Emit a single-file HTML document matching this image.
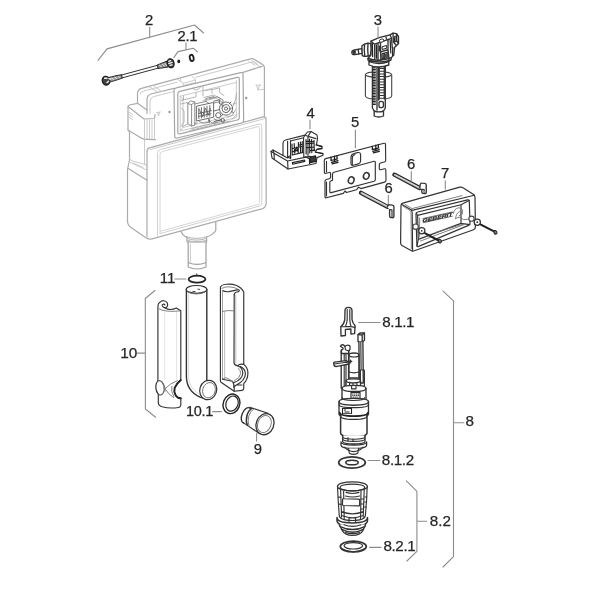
<!DOCTYPE html>
<html lang="en">
<head>
<meta charset="utf-8">
<title>Concealed cistern spare parts</title>
<style>
html,body{margin:0;padding:0;background:#fff;}
body{width:600px;height:600px;overflow:hidden;}
svg{display:block;will-change:transform;filter:blur(.35px);}
text{font-family:"Liberation Sans",sans-serif;fill:#262626;stroke:#262626;stroke-width:.25px;}
.lbl{font-size:14.8px;}
.c{fill:none;stroke:#cbcbcb;stroke-width:1;stroke-linejoin:round;stroke-linecap:round;}
.cf{fill:#fff;stroke:#c6c6c6;stroke-width:1;stroke-linejoin:round;stroke-linecap:round;}
.m{fill:none;stroke:#9a9a9a;stroke-width:.8;stroke-linejoin:round;stroke-linecap:round;}
.d{fill:none;stroke:#333;stroke-width:1.15;stroke-linejoin:round;stroke-linecap:round;}
.df{fill:#fff;stroke:#333;stroke-width:1.15;stroke-linejoin:round;stroke-linecap:round;}
.h{stroke-width:1.35;}
.t{fill:none;stroke:#222;stroke-width:1.8;stroke-linejoin:round;stroke-linecap:round;}
.g{fill:none;stroke:#747474;stroke-width:.9;stroke-linejoin:round;stroke-linecap:round;}
.l{fill:none;stroke:#8c8c8c;stroke-width:1.1;stroke-linecap:round;stroke-linejoin:round;}
</style>
</head>
<body>
<svg width="600" height="600" viewBox="0 0 600 600">
<rect width="600" height="600" fill="#fff"/>

<!-- ================= CISTERN (light) ================= -->
<g id="cistern">
<!-- outer silhouette -->
<path class="cf" style="stroke:#ababab;stroke-width:1.2" d="M137.5,103.3 L137.5,94 Q137.5,89.5 141.5,88.4 L250.6,58.9 Q252.6,58.3 254.2,59.3 L262.6,64.4 Q264.4,65.5 264.4,67.6 L264.4,116.7 L266,118 L266.2,203 Q266.2,207.5 262,208.8 L152,238.8 Q148.5,239.6 145.5,237.6 L131,227.6 Q127.5,225.2 127.5,221 L127.5,169.5 L129.5,160 L129.5,132 L128,130 L128,106.5 L129.2,105 Z"/>
<!-- top face lines -->
<path class="c" d="M140.2,94.2 Q140.6,91.8 143,91.2 L177,82.2 M195.5,77.3 L252.5,61.8 L261,67.6"/>
<path class="c" style="stroke:#ababab;stroke-width:1.2" d="M147,113.5 L147,100 Q147,95.2 151,94 L174,88.4 M243,72.4 L262.4,66.2"/>
<path class="c" d="M150,113.5 L150,101.5 Q150,97.6 153.5,96.6 L174,91.6"/>
<path class="c" d="M149,86.6 L158,92.4 M153,85.5 L161.5,91.4 M248.8,61.3 L254.8,65.2 M251.8,60.5 L257.8,64.4"/>
<!-- tab -->
<path class="c" d="M177,79 L183.3,83.3 L195.5,80 L192,76.2 M180.6,81.4 L180.6,78 M183.3,83.3 L183.5,85.6 L195.7,82.4 L195.5,80"/>
<!-- side block -->
<path class="c" style="stroke:#ababab;stroke-width:1.2" d="M128,106.5 L144,119 L154.5,118.5 L155,114.5 M137.5,103.3 L147,110"/>
<path class="c" d="M144.5,119 L144.5,139 M154.5,118.5 L154.5,139.5 M147,120 L147,139 M149.5,120 L149.5,139 M152,120 L152,139"/>
<path class="c" style="stroke:#ababab;stroke-width:1.2" d="M128,130 L142,138.4 Q144,139.4 146,139.4 L155.5,139.6"/>
<path class="c" d="M129,112 L132.5,114.5 M129,114.5 L132.5,117 M129,117 L132.5,119.5"/>
<!-- lower step of side channel -->
<path class="c" d="M144.5,139.5 L144.5,164.3 M129.5,158 Q130,160 132,160.8 L145,164.5 L147,165 M129.8,162.2 L146.5,170 M133,163 L143,167.4"/>
<path class="c" style="stroke:#ababab;stroke-width:1.2" d="M128.3,168.6 L147,180.2"/>
<!-- front face -->
<path class="c" style="stroke:#ababab;stroke-width:1.2" d="M147,236.5 L147,151 Q147,148.6 149.5,147.9 L154,146.6 L264.2,116.7"/>
<path class="c" d="M151,147.2 L153,146.2 M150,149.6 L266,118.3"/>
<!-- front panel inner -->
<path class="c" style="stroke:#d0d0d0" d="M157.5,236 L157.5,153.5 Q157.5,150.2 160.6,149.4 L259,124.2 Q261.8,123.6 261.8,126.2 L261.8,203 Q261.8,205.3 259.6,206 L160,233.6"/>
<path class="c" style="stroke:#d6d6d6" d="M160,233.6 L160,154.6 Q160,152.1 162.4,151.5 L258,126.6 Q259.6,126.2 259.6,127.8 L259.6,202.4 Q259.6,204 258,204.5 L160,231.4"/>
<!-- opening frame -->
<path class="cf" style="stroke:#a6a6a6;stroke-width:1.2" d="M174,90.5 Q174,88.3 176.2,87.8 L240.8,72.6 Q243,72.1 243,74.4 L243.7,120.3 Q243.7,122.5 241.5,123 L177,138 Q174.8,138.5 174.7,136.2 Z"/>
<path class="c" style="stroke:#a6a6a6;stroke-width:1.2" d="M177.8,94 Q177.8,91.9 179.8,91.4 L237.3,77.4 Q239.3,76.9 239.3,79 L239.3,117.5 Q239.3,119.5 237.3,120 L179.8,133.8 Q177.8,134.3 177.8,132.2 Z"/>
<path class="c" d="M180.2,96.2 L236.3,82.4 M180.2,96.2 L180.2,131 L236.3,117.6 L236.3,80.5 M180.2,131 L183,127.5 L183,99 L180.2,96.2 M183,127.5 L234,115"/>
<!-- screw dots -->
<circle cx="169.5" cy="112" r="1.2" fill="#999"/>
<circle cx="246.2" cy="98" r="1.2" fill="#999"/>
<!-- marks -->
<path class="c" d="M255.8,85.3 L261,85 M256.5,85.3 L258,90 L259.6,85.2 M258,90 L264,89.3"/>
<path class="c" d="M156.5,112.7 L160.2,112 M157.3,112.6 L158.6,116 L159.7,112.2"/>
<!-- mechanism inside opening -->
<g class="m" style="stroke:#a2a2a2">
<path d="M181,100.5 L196,96.8 L196,92.6 M181,104 L187.5,102.4 M182,126.6 L187.8,124 M181.5,108 L184,111 L184,122 L181.5,125.6"/>
<path d="M193,88.4 Q196.5,92.6 201,86.6 M203,86 L203,96 M183.5,99.6 L183.5,96 M204,97.4 L214,95 L220,98.4 L220,104 M208,100 L216,98 L222,101.8 L222,108 M203,100.4 L208,99.4 M212,93.4 L212,89.6 L219.6,87.8 L219.6,92.4 L224,95.6 M205,90.6 L211.8,89.4"/>
<path d="M226,113 L232.5,107.5 L235.5,100 L236.6,93 M227,117.6 L232,115.6 L235.6,109.6 M233,104 L236,103.6 M192,128.4 L226,120.4 M190,130.4 L230,121 M232,119.4 L237.4,114"/>
</g>
<g fill="none" stroke="#808080" stroke-width=".9" stroke-linecap="round" stroke-linejoin="round">
<path d="M187.8,103.6 L187.8,123.6 L191.6,126 L194.8,125.2 L194.8,102 L191,101 Z M191.6,126 L191.6,104.6 L194.8,102 M191.6,104.6 L187.8,103.6" fill="#fff"/>
<path d="M194.8,104 L206,101.4 L206,98.4 L214,96.6 M194.8,123.4 L197,123 M206,101.4 L209,103.4"/>
<path d="M209.6,98.6 L217.6,96.8 L223,100 L223,104 M214,103 L219.4,101.8 M209.4,120.6 Q212,124.6 217,122.6 M199,121.6 Q203,124.6 208.6,122.4 L208.6,119"/>
</g>
<g fill="none" stroke="#5e5e5e" stroke-width=".9" stroke-linecap="round" stroke-linejoin="round">
<path d="M196.4,106.6 L196.4,121 L213.6,117.2 L213.6,102.8 Z M198.8,108.2 L198.8,118.6 M201.4,107.6 L201.4,118 M204.2,107 L204.2,117.4 M207,106.2 L207,116.8 M209.8,105.6 L209.8,116.2 M198.8,113.4 L211.4,110.6 M199.4,109.6 L202.4,116.8 L205.4,108.2 L208.4,115.2 L210.4,108.6 M198.8,116.4 L211,113.8"/>
<circle cx="226" cy="108.6" r="6.6"/><circle cx="226" cy="108.6" r="4"/><circle cx="226" cy="108.6" r="1.6"/>
<path d="M221,104 L223.4,106 M229,104 L231,102 M231.6,111.4 L233.6,113 M222.6,114.4 L221,116.4"/>
<path d="M213.6,111 L219.6,109.6 M214.4,119 Q217.4,122.4 221.4,119 M215.6,115.2 a2.6,2.6 0 1 0 5.2,0 a2.6,2.6 0 1 0 -5.2,0 M219.4,103.6 L219.4,99.8 L213.6,101.2 M214,121.6 L220,120.2 M209.4,119.6 L209.4,122.4 M221,120.4 a1.8,1.8 0 1 0 3.6,0 a1.8,1.8 0 1 0 -3.6,0"/>
</g>
<!-- outlet -->
<path class="c" style="stroke:#a4a4a4;stroke-width:1.2" d="M181,231.6 Q183,236 187,237.4 L187,242 L206.6,242 L206.6,237 Q213,235 215.8,230.5 L215.8,222"/>
<path class="c" style="stroke:#b4b4b4" d="M186,236.6 Q197,240.4 207.6,236.4 M187.4,238.6 Q197,241.8 206.6,238.4 M187.6,240.4 Q197,243.6 206.4,240.2"/>
<path class="c" style="stroke:#a0a0a0;stroke-width:1.2" d="M188.2,242 L188.2,267 Q197,271 206,267 L206,242 M188.2,262.5 Q197,266.3 206,262.5"/>
<path class="c" d="M190.4,244 L190.4,262"/>

</g>

<!-- ================= PART 2 hose ================= -->
<g id="p2">
<g transform="translate(106,80.7) rotate(-15.1)">
<!-- tube -->
<path d="M15,-1.45 L54.5,-1.45 M15,1.45 L54.5,1.45" stroke="#2e2e2e" stroke-width=".9" fill="none"/>
<!-- left ferrule -->
<path d="M3.5,-2.4 L12,-2.1 L16.5,-1.6 L16.5,1.6 L12,2.1 L3.5,2.4 Z" fill="#9a9a9a" stroke="#2a2a2a" stroke-width="1" stroke-linejoin="round"/>
<path d="M6,-1.2 L8.2,1.2 M9,-1.2 L11.5,1.2 M13,-1 L14.5,1" stroke="#e8e8e8" stroke-width=".9" fill="none"/>
<!-- left nut -->
<ellipse cx="0" cy="0" rx="3.7" ry="4.4" fill="#444" stroke="#1f1f1f" stroke-width="1.3"/>
<path d="M-0.6,-2.6 L1.6,-2.2 M0.6,2 L2.4,1.2 M3.4,-1.2 L4.8,-0.4" stroke="#f2f2f2" stroke-width="1.5" stroke-linecap="round" fill="none"/>
<!-- right ferrule -->
<path d="M53.5,-1.7 L57,-2.3 L63.6,-2.9 L63.6,2.9 L57,2.3 L53.5,1.7 Z" fill="#8a8a8a" stroke="#2a2a2a" stroke-width="1" stroke-linejoin="round"/>
<path d="M55.5,-1 L57.2,1.2 M58.5,-1.5 L60.5,1.5 M61.3,-1.6 L62.6,1.4" stroke="#ededed" stroke-width=".9" fill="none"/>
<!-- right nut -->
<ellipse cx="67" cy="0" rx="3.3" ry="4.5" fill="#444" stroke="#1f1f1f" stroke-width="1.3"/>
<path d="M65.6,-2.4 L67.6,-2.6 M65.8,1.8 L68,2 M65,-0.2 L68.6,-0.4" stroke="#f2f2f2" stroke-width="1.3" stroke-linecap="round" fill="none"/>
</g>
<!-- washer dot + o-ring -->
<ellipse cx="178.75" cy="61.4" rx="1.45" ry="1.8" fill="#1f1f1f"/>
<ellipse cx="191.7" cy="57.9" rx="1.9" ry="3.2" fill="#fff" stroke="#1f1f1f" stroke-width="1.8" transform="rotate(-12 191.7 57.9)"/>

</g>

<!-- ================= PART 3 fill valve ================= -->
<g id="p3">
<!-- float (mid gray) -->
<path d="M365.4,74.5 L365.4,96 Q365.4,99 378.5,99.2 Q391.7,99 391.7,96 L391.7,74.5" fill="#fff" stroke="#444" stroke-width="1.1"/>
<ellipse cx="378.5" cy="74.5" rx="13.1" ry="2.8" fill="#fff" stroke="#444" stroke-width="1.1"/>
<!-- stem -->
<path class="df h" d="M372.4,64 L372.4,108 L374.2,111 L374.2,116 Q378.8,118 383.5,116 L383.5,111 L385.3,108 L385.3,64 Z"/>
<path class="d h" d="M374.2,111 Q378.8,112.8 383.5,111 M377,64 L377,110 M378.6,66 L378.6,100"/>
<!-- threaded rod -->
<path d="M374.3,64 L374.3,105" stroke="#222" stroke-width="3" stroke-dasharray="1.1 .5" fill="none"/>
<!-- ladder -->
<path d="M381.7,68 L381.7,99" stroke="#333" stroke-width="4.6" stroke-dasharray="1 1.7" fill="none"/>
<path class="d h" d="M379.2,67 L379.2,99 M384.3,67 L384.3,99"/>
<path class="df h" d="M379,103 Q379,101.4 381,101.4 Q383.4,101.4 383.4,103 L383.4,106 Q383.4,107.6 381,107.6 Q379,107.6 379,106 Z"/>
<!-- collar -->
<path class="df h" d="M369,61.5 L369,65 Q378.5,69 388.8,65 L388.8,61.5 Z"/>
<path class="d h" d="M369,61.5 Q378.5,65.5 388.8,61.5"/>
<!-- body -->
<path class="df h" d="M368,58.5 L370.8,55 L371,41.2 L379,37.6 L390,34.8 L393,33.2 L396.5,33.6 L398.5,36.5 L398.5,43.5 L396.5,45.5 L394.5,47.5 L393.8,55 L391.3,57.6 L391,60 Q380,63.8 368,60 Z"/>
<path class="d h" d="M371,41.2 L374.6,44.2 L391.5,38.3 L390,34.8 M374.6,44.2 L374.8,58.5 M391.5,38.3 L392.3,48 M378,43.2 L378,60 M380.5,42.4 L380.5,52 L388,49.6 L388,39.8 M380.5,52 L381,60.5 M388,49.6 L389,59.5 M368,58.5 Q380,62.5 391.3,57.6"/>
<path class="d h" d="M393,33.2 L393.4,42 L396.5,45.5 M396.5,33.6 L396.8,41 L398.5,43.5 M393.4,42 L396.8,41"/>
<path d="M372.3,43.5 L372.6,56.5 M376.3,45 L376.5,58.2" stroke="#222" stroke-width="1.3" fill="none" stroke-linecap="round"/>
<path d="M379.3,46 L379.3,51 M382,53.8 L387.2,52.2 L387.2,57.6 L382,59 Z M384.5,53.2 L384.5,58.4 M390.2,40.5 L390.8,53 M392.8,47.5 L392.5,55.5" stroke="#222" stroke-width="1.2" fill="none" stroke-linecap="round" stroke-linejoin="round"/>
<path d="M382.6,54.6 L386.8,53.4 L386.8,57 L382.6,58.2 Z" fill="#444"/>
<path d="M394.3,36 L394.6,41 M395.8,35.6 L396,40.6" stroke="#222" stroke-width="1" fill="none"/>
<path d="M382,46.8 L386.5,45.5 L386.8,48.2 L382.2,49.5 Z" fill="none" stroke="#222" stroke-width="1"/>
<ellipse cx="381.6" cy="40.6" rx="2.4" ry="1.5" fill="#fff" stroke="#333" stroke-width=".9" transform="rotate(-17 381.6 40.6)"/>
<path d="M386,37 Q386.3,40.6 389.3,39.6" class="d h"/>
<!-- nut -->
<path class="df h" d="M362,45.8 Q361.3,50.5 362.3,55.6 Q366,57.4 370.5,55.2 Q371.6,49.5 370.7,43.6 Q366,42.2 362,45.8 Z"/>
<path class="d h" d="M364.6,44.4 Q363.8,50 364.8,56.4 M368,43.3 Q367.4,49.5 368.2,56.2"/>
<!-- inlet stub -->
<path class="df h" d="M361.8,48.6 L354.5,50 Q351.6,50.6 351.8,52.8 Q352,55 355,54.6 L362,53.4 Z"/>
<path d="M353,51.2 Q352.4,52.6 353.4,53.9 L355.8,53.5 L355.4,50.7 Z" fill="#333" stroke="#222" stroke-width=".5"/>
<path class="d h" d="M358.2,49.3 L358.8,54"/>

</g>

<!-- ================= PART 4 ================= -->
<g id="p4">
<!-- base flange -->
<path class="df" d="M271,151.5 L273,150 L283,155.4 L283,143 Q283.2,140.6 285.5,140 L303,135.6 L305,135 L307.5,132 L311,131.5 L317,135 L317.6,138.5 L316.4,144.8 L322,146.4 L322,148.6 L317,149.4 L315.4,152 L323,153.5 L323,155.2 L317,157.6 L316,163.5 L288,169 L272,158 Z"/>
<path class="d" d="M271,151.5 L274,153.3 L274.3,159.4 M274,153.3 L273,150 M274,153.3 L287.6,161 L288,169 M283,155.4 L287.6,158 L287.6,141.2 M287.6,161 L309.5,156.4 L316,157.6"/>
<path class="d" d="M290.5,140.6 L290.6,158.6 M290.5,141 L303.5,137.8 L303.8,156.8 M305,135 L308,136.4 L311,131.5 M308,136.4 L308,155.6 M308,136.4 L316,138.6 M303.5,137.8 L305,135"/>
<!-- dark detail clusters -->
<g stroke="#1f1f1f" stroke-width="1.15" fill="none" stroke-linecap="round" stroke-linejoin="round">
<path d="M292,144 L292.2,154.5 M294.2,143.5 L294.6,153 L296.4,147 L298.2,152.4 L298.4,142.6 M300.4,142 L300.6,152.6 M302.2,141.6 L302.4,152 M292,148.8 L302.4,146.2 M292.2,155 L303,152.4 M293,151.6 L297.4,150.4 M299,145 L302,144.2"/>
<path d="M306,139.6 L306.2,154 M309.6,139 L309.8,153 M311.6,139.6 L311.8,152.6 M314,140.4 L314.2,151 M306,143.6 L314,143 M306.2,147.6 L314.2,147 M309.8,150.6 L315,150.4 M307,141.4 L313.6,141.8"/>
<path d="M316,145 L321.8,146.6 M321.8,148.4 L317,149.2 M315.4,152.2 L322.8,153.6"/>
<path d="M292.4,162.6 L304.6,160 L304.8,161.4 L292.6,164.2 Z" fill="#fff"/>
<path d="M310,157 L315.6,155.8 L315.8,161.4 L310.2,162.6 Z" fill="#3a3a3a"/>
<path d="M288.6,157 a1,1 0 1 0 2,0 a1,1 0 1 0 -2,0 M305,156.8 L309.4,158.6 L309.6,163.6"/>
</g>

</g>

<!-- ================= PART 5 ================= -->
<g id="p5">
<path class="df" d="M324.3,160.5 Q324.3,159 325.8,158.6 L384,143.3 Q385.5,142.9 385.5,144.4 L385.7,160.3 Q385.7,161.6 384.4,162 L380.5,163 Q379.3,163.4 379.3,164.7 L379.3,168.6 Q379.3,170 380.6,169.7 L384.5,168.8 Q385.8,168.5 385.8,170 L386,180.3 Q386,181.7 384.6,182.1 L361,188.6 L358.5,187.2 L356.5,189.8 L346.5,192.5 L345,191 L343.3,193.4 L326.4,197.8 Q325,198.2 325,196.7 L325,181.2 Q325,179.8 326.4,179.5 L329.3,178.7 Q330.6,178.4 330.6,177 L330.6,173.6 Q330.6,172.2 329.3,172.5 L325.8,173.3 Q324.4,173.6 324.4,172.2 Z"/>
<!-- inner rectangle -->
<path class="d" d="M332.5,174.2 Q332.5,172.7 334,172.3 L374,161.3 Q375.3,161 375.3,162.4 L375.3,179.5 Q375.3,180.8 374,181.2 L331.2,192.6 Q329.8,193 329.8,191.5 L329.8,182.6 Q329.8,181.2 331.2,180.8 L332.5,180.4 Z"/>
<path class="d" d="M326.5,196 L326.5,182 M326.5,161.3 L326.5,171.8"/>
<!-- window -->
<path class="df" d="M351,157.5 Q351,154.3 354,153.5 L357.5,152.6 Q360.6,151.9 360.6,155 L360.6,161 Q360.6,163.3 358.3,163.9 L353.3,165.2 Q351,165.8 351,163.4 Z"/>
<path class="d" d="M352.3,164.8 L352.3,158 Q352.3,155.2 355,154.5"/>
<!-- holes -->
<ellipse cx="351.2" cy="180.2" rx="2.8" ry="3.4" class="d" transform="rotate(20 351.2 180.2)" style="stroke-width:1.5"/>
<ellipse cx="366.3" cy="175.9" rx="2.8" ry="3.4" class="d" transform="rotate(20 366.3 175.9)" style="stroke-width:1.5"/>
<!-- clips -->
<g stroke="#1c1c1c" stroke-width="1.25" fill="none" stroke-linecap="round">
<path d="M331,157.2 L331,160.5 M334.5,156 L334.5,161.5 M337,155.6 L337,159 M331,160.5 L337.5,158.8 M331.5,162.3 L338,160.6 M332,163.8 L338,162.3"/>
<path d="M372.3,146.3 L372.3,149.6 M375.8,145.1 L375.8,150.6 M378.3,144.7 L378.3,148.1 M372.3,149.6 L378.8,147.9 M372.8,151.4 L379.3,149.7 M373.3,152.9 L379.3,151.4"/>
</g>

</g>

<!-- ================= PART 6 ================= -->
<g id="p6">
<!-- upper rod -->
<path d="M394.4,174.7 L419.6,188" stroke="#262626" stroke-width="4.3" stroke-linecap="round" fill="none"/>
<path d="M394.8,174.9 L419.4,187.9" stroke="#b6b6b6" stroke-width="2" stroke-linecap="round" fill="none"/>
<path d="M396,175.2 L419,187.3" stroke="#e4e4e4" stroke-width=".8" stroke-linecap="round" fill="none"/>
<path class="df" style="stroke-width:1.35" d="M419.8,187.8 L420.2,184.6 Q420.6,183 422.2,183.2 L424.8,183.4 Q426.2,183.6 426.2,185 L426.3,192 Q426.3,193.6 424.8,193.5 L423,193.3 Q421.8,193.1 421.8,191.9 L421.8,189.4"/>
<path class="d" d="M421.8,189.4 L424.2,189.6 L424.2,193.4"/>
<path d="M422.6,190.6 L425.4,190.9 L425.4,192.6 L422.6,192.4Z" fill="#999"/>
<!-- lower rod -->
<path d="M361,192.8 L387.6,206.8" stroke="#262626" stroke-width="4.3" stroke-linecap="round" fill="none"/>
<path d="M361.4,193 L387.4,206.7" stroke="#b6b6b6" stroke-width="2" stroke-linecap="round" fill="none"/>
<path d="M362.6,193.3 L387,206.1" stroke="#e4e4e4" stroke-width=".8" stroke-linecap="round" fill="none"/>
<path class="df" style="stroke-width:1.35" d="M387.4,206.8 L387.8,205.8 Q388.2,204.6 389.8,204.8 L392.4,205.1 Q393.9,205.4 393.9,206.8 L393.9,216.2 Q393.9,217.9 392.3,217.7 L390.8,217.5 Q389.6,217.2 389.6,215.9 L389.6,209.6"/>
<path class="d" d="M389.6,209.6 L392,209.9 L392,217.5"/>

</g>

<!-- ================= PART 7 ================= -->
<g id="p7">
<!-- outer box -->
<path class="df" style="stroke-width:1.2" d="M401,205.6 Q401,203.6 402.8,203.1 L459.8,187.2 Q461.6,186.8 463,187.8 L473.6,194.6 Q475,195.6 475,197.6 L475.4,227 Q475.4,229 473.5,229.7 L414.4,250.8 Q412.5,251.4 411,250.4 L402,245.4 Q400.6,244.6 400.6,242.9 Z"/>
<path class="d" d="M401.5,204.2 L410.6,209.6 Q412,210.4 412.2,212.3 L412.6,250.8 M410.6,209.6 Q412,210.4 414,209.9 L474.3,195.2"/>
<path class="g" d="M403,206.2 L410.2,210.6 Q411,211.1 411,212.6 L411.4,248.8 M405,204.5 L412,208.6 L462,195.6"/>
<!-- inner opening -->
<path class="d" style="stroke-width:1.2" d="M416,214.2 Q416,212.5 417.8,212 L467.5,199.9 Q469.3,199.5 469.3,201.2 L470,223.3 Q470,224.8 468.5,225.4 L418.7,246.4 Q416.9,247.1 416.9,245.2 Z"/>
<path class="d" d="M416.3,213 L417.6,215.4 L418.3,239.4 L417,246.2 M417.6,215.4 L461,204.8 L461,223.4 L418.3,239.4 M461,204.8 L469,200.6 M461,223.4 L469.8,224.6"/>
<path class="g" d="M420.5,241 L464,224.6 M435.5,232.5 L465.5,223.5 M419.6,218 L419.6,237"/>
<!-- cable/cutout -->
<path class="g" d="M453.5,213.4 Q454,208.6 458.6,207.8 Q463,208 462.6,212 Q462,215 459,216 M455.6,218.6 Q456,213 459.6,211.6 Q462.6,211.6 462.4,214 M455.6,218.6 Q459.6,215.6 463.6,219.6 L468.6,219.2"/>
<!-- logo -->
<path d="M422.8,220.6 L452.6,213.9" stroke="#fff" stroke-width="4.4" fill="none"/>
<text transform="matrix(1,-0.225,0,1,422.6,222.6)" style="font-size:5.2px;font-weight:bold;font-style:italic;fill:#222" textLength="30" lengthAdjust="spacingAndGlyphs">GEBERIT</text>
<path d="M422.6,218.6 L452.6,211.9 M422.8,222.8 L452.8,216.1" stroke="#333" stroke-width=".7" fill="none"/>
<!-- washers -->
<circle cx="415.6" cy="226.7" r="2.7" fill="#fff" stroke="#444" stroke-width="1.1"/>
<circle cx="471.5" cy="218.7" r="2.6" fill="#fff" stroke="#444" stroke-width="1.1"/>
<circle cx="421.8" cy="230.8" r="3.1" class="df" style="stroke-width:1.25"/><circle cx="421.8" cy="230.8" r=".9" fill="#333"/>
<circle cx="477.3" cy="222.2" r="3.1" class="df" style="stroke-width:1.25"/><circle cx="477.3" cy="222.2" r=".9" fill="#333"/>
<!-- screws -->
<path d="M425.2,233.4 L438.6,240.5" stroke="#222" stroke-width="2.1" stroke-linecap="round" fill="none"/>
<path d="M480.8,224.6 L494,231.4" stroke="#222" stroke-width="2.1" stroke-linecap="round" fill="none"/>
<ellipse cx="439.8" cy="241.2" rx="1.5" ry="1.9" fill="#777" stroke="#222" stroke-width="1" transform="rotate(-25 439.8 241.2)"/>
<ellipse cx="495.4" cy="232.3" rx="1.5" ry="1.9" fill="#777" stroke="#222" stroke-width="1" transform="rotate(-25 495.4 232.3)"/>

</g>

<!-- ================= PART 8 ================= -->
<g id="p8">
<!-- 8.1.1 clip -->
<path class="df h" d="M345,310.6 Q345,307.4 348.5,307.4 Q352,307.4 352,310.6 L352,319.4 Q352.6,323.4 355,325.6 L355,327.4 L354.6,333.6 L350.9,334 L350.9,329 L345.4,329.3 L345.4,335.5 L341,336 L340.8,326.7 Q344,324.4 344.8,319.6 Z"/>
<path class="d" d="M347.2,309.6 L347.2,319.6 Q347,323.4 345.4,326.4 M349.8,309.6 L349.8,319.6 Q350,323.6 351,326.4 M340.8,326.7 L345.4,326.6 L350.9,326.6 L355,327.4"/>
<!-- adjuster rod + rect -->
<path class="df h" d="M358,334.6 L360.3,332.8 L364.4,333 L364.5,340.3 L362.2,342 L358,341.6 Z"/>
<path class="d h" d="M358,334.6 L362.2,335 L364.4,333 M362.2,335 L362.2,342"/>
<path class="df h" d="M358.9,341.8 L359.3,383 L363.3,383 L362.9,342"/>
<path class="d" d="M360.8,342 L361.1,370 M360.4,370 L360.4,386 L364.4,386 L364.4,370 Z"/>
<!-- left column with hook -->
<path class="df h" d="M341.2,350.5 L341.2,388 L348.6,388 L348.6,350.5 Z"/>
<path class="d" d="M344.2,352 L344.2,387 M346,352 L346,387"/>
<path class="df h" d="M340.4,346.3 Q341.3,344.4 343.4,344.8 L345,346.4 Q347,344.3 349.6,345.6 Q350.8,347.5 349.9,349.5 L348.7,351 L348.7,353.5 L341.4,353.5 L341.4,350 Q343.4,349.5 343,348 Z"/>
<path class="d" d="M345,346.4 L345.4,349.8 L348.7,351"/>
<!-- cylinder -->
<path class="df h" d="M349,355 L349,378 L358.9,378 L358.9,355 Q358.9,353 354,353 Q349,353 349,355 Z"/>
<path class="d" d="M349,355 Q349,357 354,357 Q358.9,357 358.9,355 M349,372 Q354,373.6 358.9,372"/>
<path class="d" d="M350.6,360 L350.6,363 M349,361.4 L351.8,361.4"/>
<!-- lever arm -->
<path class="df h" d="M334,364.2 Q333,363 334.5,362.2 L346,360.7 L349,362.2 L349,364 L337,366.4 Q335,366.7 334,365.5 Z"/>
<path class="d" d="M334.5,364 L346,362.2 L349,363.2 M346,360.7 L346,362.2"/>
<!-- small cap -->
<path class="df h" d="M346,380.8 L346,387.5 L360.5,387.5 L360.5,380.8 Q360.5,378.8 353.2,378.8 Q346,378.8 346,380.8 Z"/>
<path class="d" d="M346,380.8 Q346,382.8 353.2,382.8 Q360.5,382.8 360.5,380.8 M349.5,382.4 L349.5,387 M353,382.8 L353,387.3 M357,382.6 L357,387"/>
<!-- upper housing -->
<path class="df h" d="M342,388.4 L342,401 L366,401 L366,388.4 Q366,385.4 354,385.4 Q342,385.4 342,388.4 Z"/>
<path class="d h" d="M342,388.4 Q342,391.4 354,391.4 Q366,391.4 366,388.4"/>
<path class="d" d="M351.6,386.4 L351.6,388.8 L356,388.8 L356,386.4" />
<rect x="351" y="392.4" width="9" height="6.2" fill="#fff" stroke="#222" stroke-width="1.1"/>
<path d="M352.2,394 L359,394 M352.2,395.6 L359,395.6 M352.6,397.2 L358.6,397.2" stroke="#222" stroke-width=".9" stroke-dasharray="1.4 .5" fill="none"/>
<!-- collar -->
<path class="df" style="stroke-width:1.3" d="M339,401.8 L339,414 Q339,417.4 353.7,417.4 Q368.5,417.4 368.5,414 L368.5,401.8 Q368.5,398.4 353.7,398.4 Q339,398.4 339,401.8 Z"/>
<path class="d" style="stroke-width:1.4" d="M339,401.8 Q339,405.2 353.7,405.2 Q368.5,405.2 368.5,401.8"/>
<path class="d" d="M339,404.4 Q339,407.6 353.7,407.6 Q368.5,407.6 368.5,404.4"/>
<path class="d" d="M342,397.5 Q342,400.5 353.3,400.5 Q364.7,400.5 364.7,397.5" />
<rect x="342.5" y="408.4" width="9" height="5.4" fill="#fff" stroke="#222" stroke-width="1.1"/>
<path d="M344,410 L346,410 M344.5,412 L349.5,412" stroke="#222" stroke-width="1" fill="none"/>
<!-- lower cylinder -->
<path class="df" style="stroke-width:1.5" d="M340.6,414 L340.6,433 Q340.6,436.6 353.8,436.6 Q367,436.6 367,433 L367,414"/>
<path d="M339.6,412.6 Q339.6,416.2 353.8,416.2 Q368,416.2 368,412.6" class="t" style="stroke-width:1.7"/>
<path class="d" d="M340.6,416 Q340.6,419.4 353.8,419.4 Q367,419.4 367,416"/>
<!-- narrower -->
<path class="df" style="stroke-width:1.3" d="M342.6,435.4 L342.6,441.6 Q342.6,444 353.8,444 Q365,444 365,441.6 L365,435.4"/>
<path class="d" d="M342.6,436.6 Q342.6,439.2 353.8,439.2 Q365,439.2 365,436.6 M342.6,438.8 Q342.6,441.4 353.8,441.4 Q365,441.4 365,438.8"/>
<path class="d" d="M348,437.5 L348,441 M353,439 L353,441.4"/>
<!-- flange -->
<path class="df" style="stroke-width:1.3" d="M341,442 L341,445.2 Q341,448.4 353.8,448.4 Q366.6,448.4 366.6,445.2 L366.6,442 Q366.6,445 353.8,445 Q341,445 341,442 Z"/>
<path class="d" d="M344.5,447.2 Q347,450 349,450.4 M363,447.2 Q360.6,450 358.6,450.4"/>
<!-- nozzle -->
<path class="df" d="M348.6,448.4 L349.3,453.2 Q353.6,455.6 357.8,453.2 L358.6,448.4"/>
<path class="d" d="M348.8,450.6 Q353.6,452.8 358.4,450.6"/>
<!-- washer 8.1.2 -->
<ellipse cx="352" cy="462.5" rx="13.3" ry="5.7" class="df" style="stroke-width:1.7"/>
<ellipse cx="352" cy="462.5" rx="6.2" ry="2.3" class="df" style="stroke-width:1.6"/>
<!-- 8.2 basket -->
<path class="df" d="M337.5,486.5 L338.2,500 L339.2,515 Q339.2,520.5 352.5,520.5 Q365.4,520.5 365.4,515 L366.6,500 L367.2,486.5"/>
<ellipse cx="352.4" cy="486.4" rx="14.9" ry="4.6" class="df" style="stroke-width:1.3"/>
<ellipse cx="352.4" cy="487.4" rx="12.3" ry="3.3" class="d"/>
<path class="d" d="M340.6,489.8 L341.6,517 M343.6,491 L344.2,518.4 M361,491 L360.6,518.4 M364.2,489.8 L363.2,517 M346,492.4 Q352.5,494.6 359,492.4 M341.4,511.6 Q352.5,516 363.4,511.6"/>
<path class="d" d="M345.5,496 Q352.5,498 359.5,496"/>
<path class="df" d="M342.6,499.6 Q342.4,498.6 343.6,498.7 L358.8,499.2 Q359.8,499.3 359.7,500.3 L359.6,505 Q359.6,506 358.5,505.9 L343.4,505.5 Q342.3,505.4 342.4,504.3 Z" style="stroke-width:1.25"/>
<path class="d" d="M364.8,497 L366.7,497 M364.6,502 L366.5,502 M364.4,507 L366.2,507 M361,499 L363.8,499 M361,504 L363.6,504 M361,509 L363.4,509 M338.2,497 L340.8,497.4 M338.6,504 L341,504.4"/>
<!-- flange ring -->
<path class="df" d="M337,517.6 Q337,523 352.3,523 Q367.5,523 367.5,517.6 L367.5,520.4 Q367.5,526 352.3,526 Q337,526 337,520.4 Z" style="stroke-width:1.5"/>
<path class="d" d="M342.6,515.8 Q352.5,520 362.4,515.8 M349,517.6 L349,521.6 M355.6,517.6 L355.6,521.6"/>
<!-- funnel -->
<path class="df" style="stroke-width:1.4" d="M339.2,524.6 L342.6,531 Q345,535.4 352.5,535.4 Q360.2,535.4 362.6,531 L365.6,524.6"/>
<path class="d" style="stroke-width:1.5" d="M340.2,526.6 Q352.5,532.6 364.8,526.6 M341.6,529.4 Q352.5,535 363.4,529.4"/>
<path class="d" d="M344,524.8 Q352.5,528 361,524.8 M345.4,532.6 Q352.5,534.6 359.6,532.6"/>
<!-- 8.2.1 ring -->
<ellipse cx="353.3" cy="546.6" rx="13" ry="5.4" class="df" style="stroke-width:1.7"/>
<ellipse cx="353.3" cy="545.8" rx="9.3" ry="3.2" class="df" style="stroke-width:1.2"/>
<path class="d" d="M341.4,548.6 Q353.3,555 365.2,548.6"/>

</g>

<!-- ================= PART 9/10/11 ================= -->
<g id="p10">
<!-- 11 o-ring -->
<ellipse cx="197" cy="279.2" rx="8.4" ry="3.5" fill="#fff" stroke="#222" stroke-width="1.8"/>
<path d="M196.7,273.4 L196.7,276.6 M196.7,285.8 L196.7,288.4" stroke="#333" stroke-width=".9" fill="none"/>
<!-- LEFT half shell -->
<path class="df" d="M157.9,380.8 L157.9,306.7 Q157.8,303.6 159.8,302.3 Q161.6,300.6 163.6,300.7 Q166.2,300.9 167.2,302.8 Q168,304.6 167.4,306 Q166.6,307.8 165.2,307.9 Q167.6,309.4 170.4,309.5 Q173.6,309.4 176.3,307.9 L180.8,310.8 L180.8,380 Q176.4,383.6 174.6,388 Q173.6,392 175.8,395.6 Q177.6,398.2 180.8,398.3 L180.8,405 Q180.4,407.4 178.3,407.5 Q170,408.8 162,406.8 Q158.6,405.6 158.3,403 L158.3,394.2 Q155.6,391 155.8,386 Q156,382.6 157.9,380.8 Z"/>
<path class="d" d="M165.2,307.9 Q163.2,307.6 162.4,306 Q161.8,304.6 163,304.2 Q164.4,303.8 165,305"/>
<path class="g" d="M158.8,308.8 Q162,310.6 166,310.9 Q171,311.6 176,311.2 L179.6,310.9"/>
<path d="M180.8,380 Q176.4,383.6 174.6,388 Q173.6,392 175.8,395.6 Q177.6,398.2 180.8,398.3" fill="none" stroke="#222" stroke-width="1.9" stroke-linecap="round"/>
<path class="d" d="M157.9,380.8 Q160,380 162,382 Q164.6,385.4 164.2,390 Q163.4,394.6 160.6,395 Q159.2,395 158.3,394.2" style="stroke:#555"/>
<path class="g" d="M163.4,383.6 Q165.6,387.4 165,391.4 M165,388.6 Q170.6,383 177.4,380.6 M165,388.6 Q168.4,394.6 173.6,397.6 M171.8,386.4 Q170.6,391.4 173.8,396.4"/>
<path class="g" style="stroke:#e2e2e2" d="M164.6,312 L164.6,379 M176.6,312.4 L176.6,379"/>
<!-- MIDDLE pipe -->
<path class="df" style="stroke-width:1.4" d="M186.4,289.4 L186.4,377 Q186.8,391 200,397.2 Q208,400.5 214,396 L206.8,380 L206.8,289.4 Z"/>
<ellipse cx="196.5" cy="289.4" rx="10.3" ry="3.9" class="df"/>
<path class="g" d="M188,292.3 Q196.3,295.8 204.8,292.3"/>
<path d="M192.5,291.4 L195.5,291.6 M197.5,289.2 L200,289.4" stroke="#333" stroke-width=".9" fill="none"/>
<ellipse cx="208.2" cy="390" rx="8.4" ry="9.8" class="df" transform="rotate(18 208.2 390)" style="stroke-width:1.2"/>
<ellipse cx="209" cy="390.2" rx="6.3" ry="7.8" class="g" transform="rotate(18 209 390.2)"/>
<path class="g" style="stroke:#d8d8d8" d="M188.6,294 L188.6,377 Q189.2,388 198.5,393.6"/>
<!-- RIGHT half shell -->
<path class="df" d="M220.4,287.4 Q221,284.6 226.7,284.2 Q232,283.8 236,285.2 Q241.4,287.3 243.75,292 L243.75,364.4 Q248,367.5 247.9,373.6 Q247.7,380 243.75,383.6 L243.75,388.4 Q243.6,390.2 242,390.4 L234.2,391.25 L221,382.3 Q220.4,381.8 220.4,380.8 Z"/>
<!-- top thickness -->
<path class="d" d="M222.5,290.6 Q225,292.2 229,291.6 Q234,290.6 238,289.6 Q239.6,289.8 239.2,291 Q238.6,292.2 236.6,292 Q234.4,292.4 234.2,294.6"/>
<path class="g" d="M221.8,288.4 Q224.6,286.6 229,286.8 Q234.5,287 238.3,289.3"/>
<!-- inner walls -->
<path class="g" style="stroke:#9a9a9a" d="M222.5,290.6 L222.5,379.2"/>
<path class="d" d="M222.5,379.2 L232.5,381.3 L233.75,384.2 M234.2,294.6 L234,362.8 Q234.4,365 237.5,365.8"/>
<path class="g" style="stroke:#b8b8b8" d="M235.8,295 L235.8,363 M224.6,312 L224.6,378"/>
<path class="g" d="M222.5,311.4 Q228,310 234,310.8 M222.5,379.2 L226,377.6 L232.5,381.3"/>
<!-- elbow arcs -->
<path class="d" d="M237.5,365.8 Q242.6,367.6 242.8,373.2 Q242.4,379.6 233.75,382.6 M243.75,364.4 Q239.6,363.4 237.5,365.8"/>
<path class="d" d="M240,366.4 Q245.4,368.6 245.4,374 Q245,380.6 236.8,384.8 L242,385 M233.75,384.2 L233.75,387 L236.8,384.8"/>
<path class="g" d="M238.4,368.4 Q240.8,370.4 240.6,373.6 Q240,378 234.6,380.6"/>
<path class="d" d="M234.2,391.25 L234.2,387.2"/>
<!-- 10.1 ring -->
<ellipse cx="231.5" cy="403.8" rx="8.2" ry="10" fill="#fff" stroke="#222" stroke-width="1.4" transform="rotate(22 231.5 403.8)"/>
<ellipse cx="232" cy="403.6" rx="6" ry="7.8" fill="none" stroke="#222" stroke-width="1.2" transform="rotate(22 232 403.6)"/>
<!-- 9 connector -->
<ellipse cx="246.5" cy="415.4" rx="4.6" ry="8.2" class="df" transform="rotate(22 246.5 415.4)" style="stroke-width:1.4"/>
<path d="M251.9,407.9 L243.6,423.4 L260,433.8 L268.5,413.4 Z" fill="#fff" stroke="none"/>
<path class="d" d="M249.7,407.2 L268,413.2 M243.3,422.6 L259.4,433.6"/>
<path class="d" style="stroke-width:1.5" d="M252.2,408.4 Q248.8,409.6 247,415.5 Q245.6,421 247.3,425.2"/>
<path class="g" d="M253.9,409.1 Q250.6,410.3 248.8,416 Q247.4,421.5 249.1,426.3"/>
<ellipse cx="265" cy="424.2" rx="8.8" ry="10.8" class="df" transform="rotate(22 265 424.2)" style="stroke-width:1.3"/>
<ellipse cx="264.4" cy="424" rx="6.6" ry="8.8" class="g" transform="rotate(22 264.4 424)"/>

</g>

<!-- ================= LABELS ================= -->
<g id="labels">
<g class="l">
<!-- 2 bracket -->
<path d="M98,60.3 L107,48.9 L194.5,25 L203.6,33 M149.7,27.3 L149.7,36.8"/>
<!-- 2.1 bracket -->
<path d="M173.8,57.6 L178,51.6 L193.3,48.2 L197.4,51.8 M186,42.8 L186,49.8"/>
<!-- 3 -->
<path d="M378,27 L378,38"/>
<!-- 4 -->
<path d="M310,120 L310,128.8"/>
<!-- 5 -->
<path d="M355.4,130 L355.4,147.8"/>
<!-- 6 -->
<path d="M411.3,171.6 L411.3,181 M388.3,195.3 L388.3,203.6"/>
<!-- 7 -->
<path d="M445.3,180.7 L445.3,189.3"/>
<!-- 11 -->
<path d="M174.8,279 L185.8,279"/>
<!-- 10 -->
<path d="M155,290.5 L145.3,298.5 L145.4,409 L155.6,417.2 M137.2,353.1 L145.3,353.1"/>
<!-- 10.1 -->
<path d="M212.6,411.6 L221.4,411.6"/>
<!-- 9 -->
<path d="M256.6,433.4 L256.6,441"/>
<!-- 8.1.1 -->
<path d="M358.6,322.5 L380,322.5"/>
<!-- 8.1.2 -->
<path d="M368,460.5 L379.8,460.5"/>
<!-- 8.2.1 -->
<path d="M369.6,547.4 L381,547.4"/>
<!-- 8.2 bracket -->
<path d="M406.4,480.8 L416.9,491.4 L416.9,551.4 L406.9,561 M416.9,521.3 L426.6,521.3"/>
<!-- 8 bracket -->
<path d="M443,291.2 L453.5,300.8 L453.5,556.6 L443,567 M453.5,422.7 L463.8,422.7"/>
</g>
<g class="lbl">
<text x="145.1" y="25">2</text>
<text x="177.6" y="41" style="letter-spacing:-.4px">2.1</text>
<text x="373.7" y="24.7">3</text>
<text x="306.4" y="117.6">4</text>
<text x="351" y="127.3">5</text>
<text x="407.1" y="168.8">6</text>
<text x="384.4" y="192.8">6</text>
<text x="441" y="178">7</text>
<text x="159.7" y="283" style="font-size:15.2px">11</text>
<text x="120.3" y="357.7" style="font-size:15.4px">10</text>
<text x="185.9" y="416" style="font-size:14.5px;letter-spacing:-.3px">10.1</text>
<text x="253.7" y="454.3">9</text>
<text x="382.2" y="326.6" style="font-size:15.2px;letter-spacing:-.35px">8.1.1</text>
<text x="381.8" y="465.1" style="font-size:15.2px;letter-spacing:-.35px">8.1.2</text>
<text x="383.4" y="551" style="font-size:15.2px;letter-spacing:-.35px">8.2.1</text>
<text x="429.8" y="526" style="font-size:15.2px">8.2</text>
<text x="465.6" y="426.3" style="font-size:15.2px">8</text>
</g>

</g>
</svg>
</body>
</html>
